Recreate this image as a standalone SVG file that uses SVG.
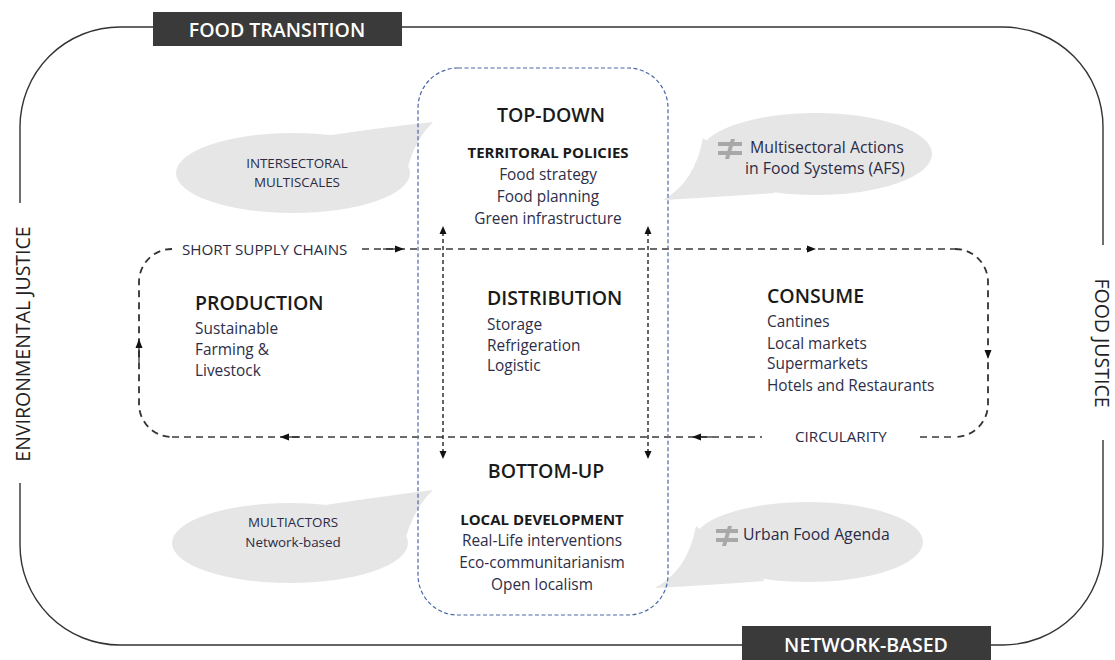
<svg xmlns="http://www.w3.org/2000/svg" width="1115" height="660" viewBox="0 0 1115 660">
<style>
text{font-family:"Open Sans","Noto Sans","Liberation Sans",sans-serif;}
.frame{fill:none;stroke:#333;stroke-width:1.4;}
.lbl{fill:#3a3a3a;}
.lbltxt{fill:#fff;font-size:19.5px;font-weight:600;text-anchor:middle;}
.side{fill:#222;font-size:19.5px;text-anchor:middle;}
.bub{fill:#e6e6e6;}
.bubtxt{fill:#2b2b45;font-size:13.4px;text-anchor:middle;}
.bubtxt2{fill:#2b2b45;font-size:15.8px;}
.icon{fill:#a8a8a8;}
.blue{fill:none;stroke:#4a68a8;stroke-width:1.2;stroke-dasharray:4 2.5;}
.loopg{fill:none;stroke:#6a6a6a;stroke-width:2;stroke-dasharray:7 5;}
.loopd{fill:none;stroke:#333;stroke-width:1.8;stroke-dasharray:7 5;}
.varr{fill:none;stroke:#222;stroke-width:1.4;stroke-dasharray:4 3;}
.ah{fill:#111;}
.h1{fill:#1a1a1a;font-size:19.5px;font-weight:600;}
.h2{fill:#1a1a1a;font-size:15px;font-weight:700;}
.it{fill:#2e2e48;font-size:15.4px;}
.flow{fill:#2b2b45;font-size:15.2px;}
.mid{text-anchor:middle;}
</style>

<g id="frame">
<path class="frame" d="M20 203 L20 127 A100 100 0 0 1 120 27 L1003 27 A100 100 0 0 1 1103 127 L1103 245"/>
<path class="frame" d="M1103 440 L1103 545 A100 100 0 0 1 1003 645 L120 645 A100 100 0 0 1 20 545 L20 483"/>
</g>

<g id="food-transition">
<rect class="lbl" x="153" y="12" width="249" height="34"/>
<text class="lbltxt" x="277" y="37">FOOD TRANSITION</text>
</g>
<g id="network-based">
<rect class="lbl" x="742" y="626" width="249" height="34"/>
<text class="lbltxt" x="866" y="652">NETWORK-BASED</text>
</g>
<g id="environmental-justice">
<text class="side" transform="translate(30 344) rotate(-90)">ENVIRONMENTAL JUSTICE</text>
</g>
<g id="food-justice">
<text class="side" transform="translate(1095 343) rotate(90)">FOOD JUSTICE</text>
</g>

<g id="bubble-intersectoral">
<ellipse class="bub" cx="293" cy="173" rx="117" ry="40"/>
<path class="bub" d="M433 122 Q385 127 325 136 L405 182 Q410 145 433 122 Z"/>
<text class="bubtxt" x="297" y="168">INTERSECTORAL</text>
<text class="bubtxt" x="297" y="187">MULTISCALES</text>
</g>
<g id="bubble-afs">
<ellipse class="bub" cx="816" cy="154" rx="116" ry="41"/>
<path class="bub" d="M663 200 Q695 182 703 138 L775 193 Q720 197 663 200 Z"/>
<rect class="icon" x="718" y="142" width="24" height="4"/>
<rect class="icon" x="718" y="151" width="24" height="4"/>
<polygon class="icon" points="731,139 735,139 729,159 725,159"/>
<text class="bubtxt2" x="750" y="153">Multisectoral Actions</text>
<text class="bubtxt2" x="745" y="174">in Food Systems (AFS)</text>
</g>
<g id="bubble-multiactors">
<ellipse class="bub" cx="290" cy="543" rx="118" ry="40"/>
<path class="bub" d="M433 490 Q385 496 325 505 L403 550 Q410 512 433 490 Z"/>
<text class="bubtxt" x="293" y="527">MULTIACTORS</text>
<text class="bubtxt" x="293" y="547">Network-based</text>
</g>
<g id="bubble-urban">
<ellipse class="bub" cx="808" cy="542" rx="115" ry="40"/>
<path class="bub" d="M655 588 Q688 570 696 526 L765 581 Q712 585 655 588 Z"/>
<rect class="icon" x="716" y="529" width="22" height="4"/>
<rect class="icon" x="716" y="538" width="22" height="4"/>
<polygon class="icon" points="728,526 732,526 726,546 722,546"/>
<text class="bubtxt2" x="743" y="540">Urban Food Agenda</text>
</g>

<g id="governance-frame">
<rect class="blue" x="418" y="68" width="250" height="547" rx="40" ry="40"/>
</g>

<g id="connectors">
<path class="loopd" d="M172 249 A33 33 0 0 0 139 282 L139 404 A33 33 0 0 0 172 437"/>
<path class="loopd" d="M955 249 A33 33 0 0 1 988 282 L988 404 A33 33 0 0 1 955 437"/>
<path class="loopg" d="M362 249 L955 249"/>
<path class="loopg" d="M172 437 L762 437"/>
<path class="loopg" d="M920 437 L955 437"/>
<path d="M383 249 L396 249" stroke="#222" stroke-width="1.2"/>
<polygon class="ah" points="404,249 395,245.5 395,252.5"/>
<polygon class="ah" points="816,249 807,245.5 807,252.5"/>
<polygon class="ah" points="988,359 984.5,350 991.5,350"/>
<polygon class="ah" points="692,437 701,433.5 701,440.5"/>
<path d="M700 437 L712 437" stroke="#222" stroke-width="1.2"/>
<polygon class="ah" points="280,437 289,433.5 289,440.5"/>
<path d="M288 437 L300 437" stroke="#222" stroke-width="1.2"/>
<polygon class="ah" points="139,339 135.5,348 142.5,348"/>
<path d="M139 347 L139 362" stroke="#222" stroke-width="1.2"/>
<path class="varr" d="M443 232 L443 452"/>
<path class="varr" d="M648 232 L648 452"/>
<polygon class="ah" points="443,226 439.5,234 446.5,234"/>
<polygon class="ah" points="648,226 644.5,234 651.5,234"/>
<polygon class="ah" points="443,459 439.5,451 446.5,451"/>
<polygon class="ah" points="648,459 644.5,451 651.5,451"/>
</g>

<g id="short-supply-chains">
<text class="flow" x="182" y="255">SHORT SUPPLY CHAINS</text>
</g>
<g id="circularity">
<text class="flow" x="795" y="442">CIRCULARITY</text>
</g>

<g id="top-down">
<text class="h1 mid" x="551" y="122">TOP-DOWN</text>
<text class="h2 mid" x="548" y="158">TERRITORAL POLICIES</text>
<text class="it mid" x="548" y="180">Food strategy</text>
<text class="it mid" x="548" y="202">Food planning</text>
<text class="it mid" x="548" y="224">Green infrastructure</text>
</g>

<g id="production">
<text class="h1" x="195" y="310">PRODUCTION</text>
<text class="it" x="195" y="334">Sustainable</text>
<text class="it" x="195" y="355">Farming &amp;</text>
<text class="it" x="195" y="376">Livestock</text>
</g>

<g id="distribution">
<text class="h1" x="487" y="305">DISTRIBUTION</text>
<text class="it" x="487" y="330">Storage</text>
<text class="it" x="487" y="351">Refrigeration</text>
<text class="it" x="487" y="371">Logistic</text>
</g>

<g id="consume">
<text class="h1" x="767" y="303">CONSUME</text>
<text class="it" x="767" y="327">Cantines</text>
<text class="it" x="767" y="349">Local markets</text>
<text class="it" x="767" y="369">Supermarkets</text>
<text class="it" x="767" y="391">Hotels and Restaurants</text>
</g>

<g id="bottom-up">
<text class="h1 mid" x="546" y="478">BOTTOM-UP</text>
<text class="h2 mid" x="542" y="525">LOCAL DEVELOPMENT</text>
<text class="it mid" x="542" y="546">Real-Life interventions</text>
<text class="it mid" x="542" y="568">Eco-communitarianism</text>
<text class="it mid" x="542" y="590">Open localism</text>
</g>
</svg>
